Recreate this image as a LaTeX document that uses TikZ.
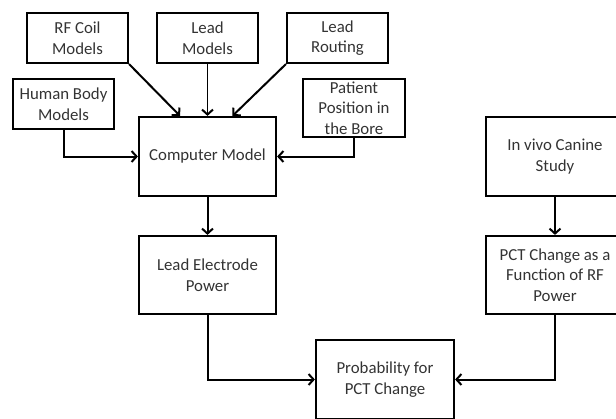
\documentclass[tikz,border=0pt]{standalone}
\usepackage{fontspec}
\setmainfont{Carlito}
\usetikzlibrary{arrows.meta}
\begin{document}
\begin{tikzpicture}[x=1pt,y=-1pt,
  box/.style={draw, line width=2.2pt, align=center, inner sep=0pt,
    font=\fontsize{16.8pt}{20.7pt}\selectfont, text=black!80},
  conn/.style={line width=2pt, -{Straight Barb[length=5pt,width=11pt,line width=2pt]}}]
\path[use as bounding box, clip] (0,0) rectangle (616,418);
\node[box, minimum width=101pt, minimum height=50pt] (rf) at (77.5,38) {RF Coil\\Models};
\node[box, minimum width=101pt, minimum height=50pt] (lm) at (207.5,38) {Lead\\Models};
\node[box, minimum width=101pt, minimum height=50pt] (lr) at (337.5,38) {Lead\\Routing};
\node[box, minimum width=101pt, minimum height=50pt] (hb) at (63.5,104) {Human Body\\Models};
\node[box, minimum width=102pt, minimum height=58pt] (pp) at (354,108) {Patient\\Position in\\the Bore};
\node[box, minimum width=137pt, minimum height=79pt] (cm) at (207.5,156.5) {Computer Model};
\node[box, minimum width=137pt, minimum height=78pt] (le) at (207.5,275) {Lead Electrode\\Power};
\node[box, minimum width=138pt, minimum height=79pt] (pr) at (385,379.5) {Probability for\\PCT Change};
\node[box, minimum width=138pt, minimum height=79pt] (iv) at (555,156.5) {In vivo Canine\\Study};
\node[box, minimum width=138pt, minimum height=78pt] (pc) at (555,275) {PCT Change as a\\Function of RF\\Power};
\draw[conn] (rf.south east) -- ([xshift=-27.5pt]cm.north);
\draw[conn, line width=1.5pt] (lm) -- (cm);
\draw[conn] (lr.south west) -- ([xshift=25pt]cm.north);
\draw[conn] (hb.south) |- (cm.west);
\draw[conn] (pp.south) |- (cm.east);
\draw[conn] (cm) -- (le);
\draw[conn] (le.south) |- (pr.west);
\draw[conn] (iv) -- (pc);
\draw[conn] (pc.south) |- (pr.east);
\end{tikzpicture}
\end{document}
